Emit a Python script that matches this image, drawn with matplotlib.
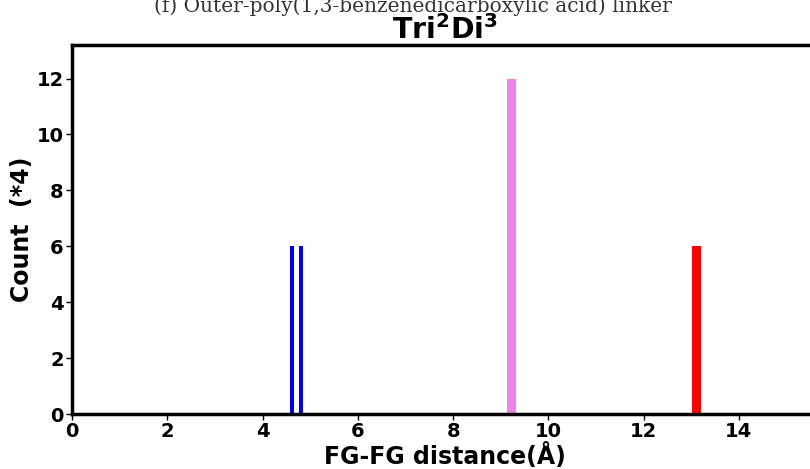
import matplotlib
matplotlib.use("Agg")
import matplotlib.pyplot as plt

# FG-FG distances (Å) and counts
blue_x = [4.62, 4.80]
blue_count = [6, 6]
pink_x = [9.18, 9.28]
pink_count = [12, 12]
red_x = [13.06, 13.16]
red_count = [6, 6]

plt.rcParams["font.family"] = "DejaVu Sans"
plt.rcParams["font.weight"] = "bold"

fig = plt.figure(figsize=(8.10, 4.69), dpi=100)
ax = fig.add_axes([72 / 810, 1 - 414 / 469, (818 - 72) / 810, (414 - 45) / 469])

ax.bar(blue_x, blue_count, width=0.09, color="blue")
ax.bar(pink_x, pink_count, width=0.1, color="violet")
ax.bar(red_x, red_count, width=0.1, color="red")

ax.set_xlim(0, 15.66)
ax.set_ylim(0, 13.2)
ax.set_xticks(range(0, 16, 2))
ax.set_yticks(range(0, 13, 2))
ax.tick_params(labelsize=14, width=1, length=4, pad=2)
for lab in ax.get_xticklabels() + ax.get_yticklabels():
    lab.set_fontweight("bold")
for sp in ax.spines.values():
    sp.set_linewidth(2.5)

ax.set_xlabel("FG-FG distance(Å)", fontsize=17, fontweight="bold", labelpad=1)
ax.set_ylabel("Count  (*4)", fontsize=17, fontweight="bold", labelpad=1.5)
ax.set_title(r"Tri$^\mathbf{2}$Di$^\mathbf{3}$", fontsize=20.5, fontweight="bold", pad=4)

# caption of the panel above, cut by the top edge as in the source
fig.text(413 / 810, 1 - 12 / 469, "(f) Outer-poly(1,3-benzenedicarboxylic acid) linker",
         ha="center", va="baseline", fontsize=14.5, family="DejaVu Serif",
         fontweight="normal", color="#333333")

fig.savefig("out.png", dpi=100)
